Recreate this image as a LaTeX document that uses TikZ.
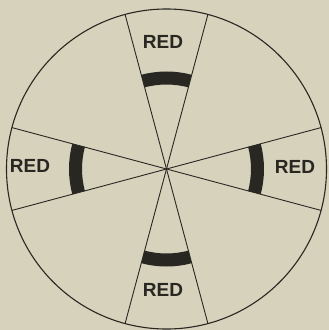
\documentclass[tikz,border=0pt]{standalone}
\usepackage{fontspec}
\setmainfont{Liberation Sans}
\usepackage{tikz}

\definecolor{paper}{RGB}{214,210,188}
\definecolor{ink}{RGB}{40,39,34}

\begin{document}
\begin{tikzpicture}[x=1pt,y=1pt]
	% page and background
	\fill[paper] (-166.5,-161) rectangle (162.5,169);
	\useasboundingbox (-166.5,-161) rectangle (162.5,169);
	\tikzset{redlabel/.style={text=ink,font=\fontsize{19}{19}\selectfont\bfseries,inner sep=0pt}}
	% outer disc
	\draw[ink,line width=1.1] (0,0) circle (160);
	% dividing lines through the centre
	\draw[ink,line width=0.9] (105:160) -- (285:160);
	\draw[ink,line width=0.9] (75:160) -- (255:160);
	\draw[ink,line width=0.9] (165:160) -- (345:160);
	\draw[ink,line width=0.9] (195:160) -- (15:160);
	% thick arcs in the red sectors
	\draw[ink,line width=13] (75:91) arc (75:105:91);
	\draw[ink,line width=13] (255:91) arc (255:285:91);
	\draw[ink,line width=13] (165:91) arc (165:195:91);
	\draw[ink,line width=13] (-15:91) arc (-15:15:91);
	% labels
	\node[redlabel] (topred) at (-3.5,127.5) {RED};
	\node[redlabel] (botred) at (-3.5,-121) {RED};
	\node[redlabel] (leftred) at (-136.5,3.5) {RED};
	\node[redlabel] (rightred) at (128.5,2.5) {RED};
\end{tikzpicture}
\end{document}
